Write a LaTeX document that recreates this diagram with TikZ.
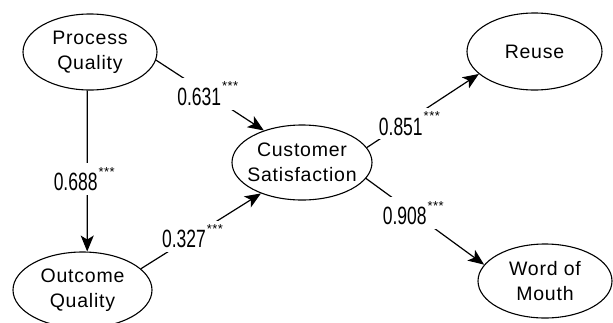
\documentclass[tikz,border=0pt]{standalone}
\usepackage{fontspec}
\setmainfont[LetterSpace=4]{Liberation Sans}
\newfontfamily\numfont[FakeStretch=0.7]{Liberation Sans}
\usetikzlibrary{arrows.meta,shapes.geometric}
\newcommand\pathcoef[1]{{\numfont\fontsize{25}{25}\selectfont #1}\hspace{1pt}\raisebox{14.5pt}{\fontsize{13}{13}\selectfont ***}}
\begin{document}
\begin{tikzpicture}[x=1pt,y=-1pt,
  lv/.style 2 args={ellipse,draw,line width=1.1pt,inner xsep=-8pt,inner ysep=0pt,
    minimum width=#1pt,minimum height=#2pt,align=center,
    font=\fontsize{19.5}{25}\selectfont},
  conn/.style={draw,line width=1.2pt,-{Stealth[length=16pt,width=13pt,inset=4pt]}},
  lbl/.style={fill=white,inner sep=4pt}]
\useasboundingbox (0,0) rectangle (613,322);
\node[lv={134}{76}] (pq) at (90,52) {Process\\Quality};
\node[lv={139}{76}] (oq) at (82.5,290) {Outcome\\Quality};
\node[lv={140}{75}] (cs) at (302,162.5) {Customer\\Satisfaction};
\node[lv={135}{77}] (ru) at (534.5,51.5) {Reuse};
\node[lv={134}{74}] (wm) at (545,281) {Word of\\Mouth};
\draw[conn] (pq.-7) -- node[lbl,pos=0.48] (l1) {\pathcoef{0.631}} (cs.140);
\draw[conn] (pq.-94.5) -- node[lbl,pos=0.55,xshift=-3pt] (l2) {\pathcoef{0.688}} (oq.83.2);
\draw[conn] (oq.20) -- node[lbl,pos=0.43] (l3) {\pathcoef{0.327}} (cs.217);
\draw[conn] (cs.13.5) -- node[lbl,pos=0.38,yshift=-4pt] (l4) {\pathcoef{0.851}} (ru.202);
\draw[conn] (cs.-14) -- node[lbl,pos=0.40] (l5) {\pathcoef{0.908}} (wm.165);
\end{tikzpicture}
\end{document}
